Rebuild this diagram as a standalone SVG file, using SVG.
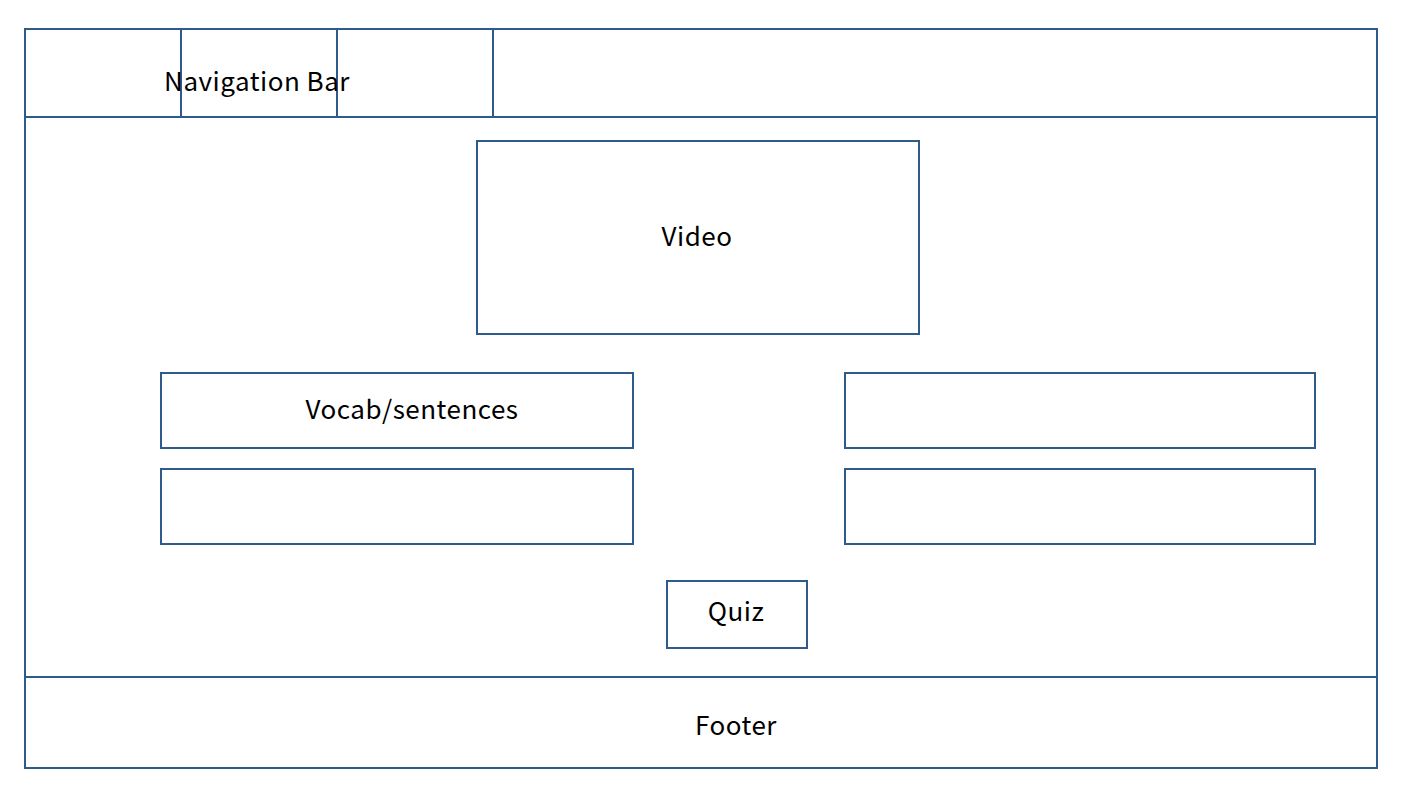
<svg xmlns="http://www.w3.org/2000/svg" width="1404" height="790" viewBox="0 0 1404 790">
<style>
.b{fill:#fff;stroke:#2F5A8C;stroke-width:2}
.l{stroke:#2F5A8C;stroke-width:2;fill:none}
.t{font-family:"Noto Sans CJK JP","Noto Sans",sans-serif;font-size:26px;letter-spacing:0.5px;fill:#000;text-anchor:middle;dominant-baseline:central}
</style>
<rect width="1404" height="790" fill="#fff"/>
<g id="page"><rect class="b" x="25" y="29" width="1352" height="739"/></g>
<g id="navbar">
<line class="l" x1="25" y1="117" x2="1377" y2="117"/>
<line class="l" x1="181" y1="29" x2="181" y2="117"/>
<line class="l" x1="337" y1="29" x2="337" y2="117"/>
<line class="l" x1="493" y1="29" x2="493" y2="117"/>
<text class="t" x="257" y="79">Navigation Bar</text>
</g>
<g id="video"><rect class="b" x="477" y="141" width="442" height="193"/><text class="t" x="697" y="234">Video</text></g>
<g id="vocab"><rect class="b" x="161" y="373" width="472" height="75"/><text class="t" x="412" y="407">Vocab/sentences</text></g>
<g id="box2"><rect class="b" x="161" y="469" width="472" height="75"/></g>
<g id="box3"><rect class="b" x="845" y="373" width="470" height="75"/></g>
<g id="box4"><rect class="b" x="845" y="469" width="470" height="75"/></g>
<g id="quiz"><rect class="b" x="667" y="581" width="140" height="67"/><text class="t" x="736" y="609">Quiz</text></g>
<g id="footer"><line class="l" x1="25" y1="677" x2="1377" y2="677"/><text class="t" x="736" y="723">Footer</text></g>
<g id="connectors"></g>
</svg>
